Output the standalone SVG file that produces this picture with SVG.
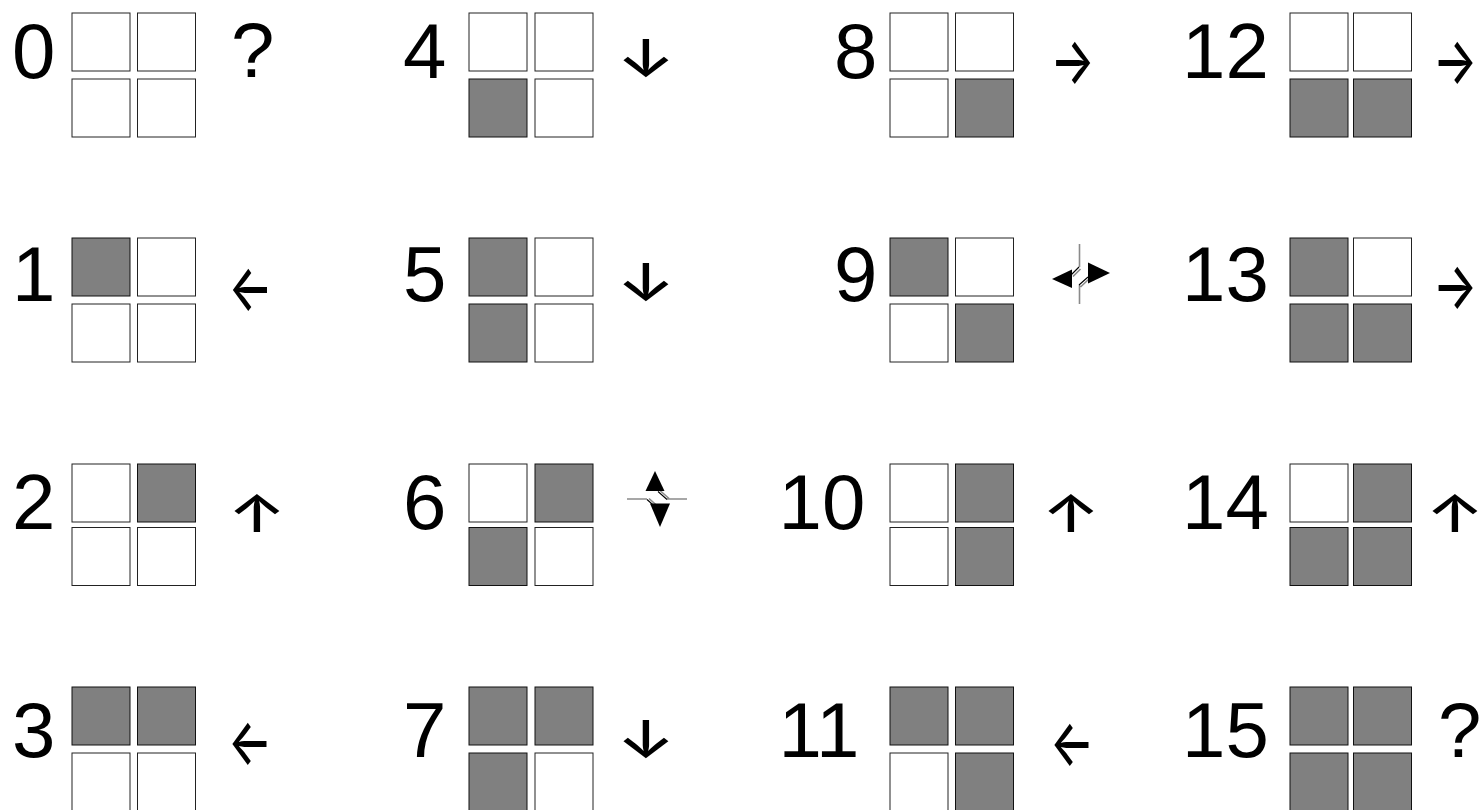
<svg xmlns="http://www.w3.org/2000/svg" width="1479" height="810" viewBox="0 0 1479 810">
<style>
.w{fill:#fff;stroke:#222;stroke-width:1}
.g{fill:#808080;stroke:#111;stroke-width:1}
.lbl{font-family:"Liberation Sans",Arial,sans-serif;font-size:78px;fill:#000}
.ah{font-family:Inter,"DejaVu Sans",sans-serif;font-size:64px;font-weight:500;fill:#000;text-anchor:middle}
.av{font-family:Inter,"DejaVu Sans",sans-serif;font-size:68px;font-weight:500;fill:#000;text-anchor:middle;letter-spacing:-14px}
.gl{stroke:#8a8a8a;stroke-width:1.6;fill:none}
.bl{stroke:#000;stroke-width:1.1;fill:none}
.tri{fill:#000}
</style>
<rect width="1479" height="810" fill="#fff"/>
<g id="cell0"><text class="lbl" x="12" y="77.5">0</text>
<rect class="w" x="72" y="13" width="58" height="58"/><rect class="w" x="137.5" y="13" width="58" height="58"/>
<rect class="w" x="72" y="79" width="58" height="58"/><rect class="w" x="137.5" y="79" width="58" height="58"/>
<text class="lbl" x="231" y="77">?</text></g>
<g id="cell1"><text class="lbl" x="12" y="301">1</text>
<rect class="g" x="72" y="238" width="58" height="58"/><rect class="w" x="137.5" y="238" width="58" height="58"/>
<rect class="w" x="72" y="304" width="58" height="58"/><rect class="w" x="137.5" y="304" width="58" height="58"/>
<text class="ah" transform="translate(250.5 289) scale(0.73 1)" y="20.5">←</text></g>
<g id="cell2"><text class="lbl" x="12" y="529">2</text>
<rect class="w" x="72" y="464" width="58" height="58"/><rect class="g" x="137.5" y="464" width="58" height="58"/>
<rect class="w" x="72" y="527.5" width="58" height="58"/><rect class="w" x="137.5" y="527.5" width="58" height="58"/>
<text class="av" transform="translate(257 515) scale(1 0.76)" x="-7" y="23">↑</text></g>
<g id="cell3"><text class="lbl" x="12" y="757">3</text>
<rect class="g" x="72" y="687" width="58" height="58"/><rect class="g" x="137.5" y="687" width="58" height="58"/>
<rect class="w" x="72" y="753" width="58" height="58"/><rect class="w" x="137.5" y="753" width="58" height="58"/>
<text class="ah" transform="translate(250 743.5) scale(0.73 1)" y="20.5">←</text></g>

<g id="cell4"><text class="lbl" x="403" y="77.5">4</text>
<rect class="w" x="469" y="13" width="58" height="58"/><rect class="w" x="535" y="13" width="58" height="58"/>
<rect class="g" x="469" y="79" width="58" height="58"/><rect class="w" x="535" y="79" width="58" height="58"/>
<text class="av" transform="translate(646 59.5) scale(1 0.76)" x="-7" y="23">↓</text></g>
<g id="cell5"><text class="lbl" x="403" y="301">5</text>
<rect class="g" x="469" y="238" width="58" height="58"/><rect class="w" x="535" y="238" width="58" height="58"/>
<rect class="g" x="469" y="304" width="58" height="58"/><rect class="w" x="535" y="304" width="58" height="58"/>
<text class="av" transform="translate(646 284) scale(1 0.76)" x="-7" y="23">↓</text></g>
<g id="cell6"><text class="lbl" x="403" y="529">6</text>
<rect class="w" x="469" y="464" width="58" height="58"/><rect class="g" x="535" y="464" width="58" height="58"/>
<rect class="g" x="469" y="527.5" width="58" height="58"/><rect class="w" x="535" y="527.5" width="58" height="58"/>
<path class="gl" d="M627 499H647M667 499H687M649 498.5L658 506.5M669 498.5L660 490.5"/>
<path class="bl" d="M647 499.5L656 507.5M667 499.5L658 491.5"/>
<path class="tri" d="M655 471L664.5 491H645.5Z"/>
<path class="tri" d="M650 503.5H670L660 527Z"/></g>
<g id="cell7"><text class="lbl" x="403" y="757">7</text>
<rect class="g" x="469" y="687" width="58" height="58"/><rect class="g" x="535" y="687" width="58" height="58"/>
<rect class="g" x="469" y="753" width="58" height="58"/><rect class="w" x="535" y="753" width="58" height="58"/>
<text class="av" transform="translate(646 741) scale(1 0.76)" x="-7" y="23">↓</text></g>

<g id="cell8"><text class="lbl" x="834" y="77.5">8</text>
<rect class="w" x="890" y="13" width="58" height="58"/><rect class="w" x="955.5" y="13" width="58" height="58"/>
<rect class="w" x="890" y="79" width="58" height="58"/><rect class="g" x="955.5" y="79" width="58" height="58"/>
<text class="ah" transform="translate(1072.5 62) scale(0.73 1)" y="20.5">→</text></g>
<g id="cell9"><text class="lbl" x="834" y="301">9</text>
<rect class="g" x="890" y="238" width="58" height="58"/><rect class="w" x="955.5" y="238" width="58" height="58"/>
<rect class="w" x="890" y="304" width="58" height="58"/><rect class="g" x="955.5" y="304" width="58" height="58"/>
<path class="gl" d="M1079.5 244V267M1079.5 285V304M1080.5 269L1073 276.5M1080.5 287L1089 279"/>
<path class="bl" d="M1079 267L1071 275M1079 285L1088 277"/>
<path class="tri" d="M1052 279L1072 269.5V288Z"/>
<path class="tri" d="M1110 273L1088 262.5V283.5Z"/></g>
<g id="cell10"><text class="lbl" x="778.5" y="529">10</text>
<rect class="w" x="890" y="464" width="58" height="58"/><rect class="g" x="955.5" y="464" width="58" height="58"/>
<rect class="w" x="890" y="527.5" width="58" height="58"/><rect class="g" x="955.5" y="527.5" width="58" height="58"/>
<text class="av" transform="translate(1071 514.5) scale(1 0.76)" x="-7" y="23">↑</text></g>
<g id="cell11"><text class="lbl" x="778.5" y="757">11</text>
<rect class="g" x="890" y="687" width="58" height="58"/><rect class="g" x="955.5" y="687" width="58" height="58"/>
<rect class="w" x="890" y="753" width="58" height="58"/><rect class="g" x="955.5" y="753" width="58" height="58"/>
<text class="ah" transform="translate(1072 744) scale(0.73 1)" y="20.5">←</text></g>

<g id="cell12"><text class="lbl" x="1182" y="77.5">12</text>
<rect class="w" x="1290" y="13" width="58" height="58"/><rect class="w" x="1353.5" y="13" width="58" height="58"/>
<rect class="g" x="1290" y="79" width="58" height="58"/><rect class="g" x="1353.5" y="79" width="58" height="58"/>
<text class="ah" transform="translate(1455 62) scale(0.73 1)" y="20.5">→</text></g>
<g id="cell13"><text class="lbl" x="1182" y="301">13</text>
<rect class="g" x="1290" y="238" width="58" height="58"/><rect class="w" x="1353.5" y="238" width="58" height="58"/>
<rect class="g" x="1290" y="304" width="58" height="58"/><rect class="g" x="1353.5" y="304" width="58" height="58"/>
<text class="ah" transform="translate(1455 287) scale(0.73 1)" y="20.5">→</text></g>
<g id="cell14"><text class="lbl" x="1182" y="529">14</text>
<rect class="w" x="1290" y="464" width="58" height="58"/><rect class="g" x="1353.5" y="464" width="58" height="58"/>
<rect class="g" x="1290" y="527.5" width="58" height="58"/><rect class="g" x="1353.5" y="527.5" width="58" height="58"/>
<text class="av" transform="translate(1455 515) scale(1 0.76)" x="-7" y="23">↑</text></g>
<g id="cell15"><text class="lbl" x="1182" y="757">15</text>
<rect class="g" x="1290" y="687" width="58" height="58"/><rect class="g" x="1353.5" y="687" width="58" height="58"/>
<rect class="g" x="1290" y="753" width="58" height="58"/><rect class="g" x="1353.5" y="753" width="58" height="58"/>
<text class="lbl" x="1438" y="757">?</text></g>
<g id="connectors"></g>
</svg>
